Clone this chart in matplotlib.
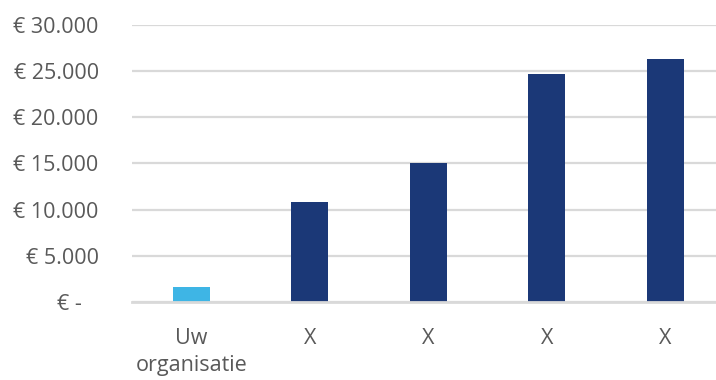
import numpy as np
import matplotlib.pyplot as plt

plt.rcParams['font.family'] = ['Open Sans', 'DejaVu Sans']

# data
categories = ['Uw\norganisatie', 'X', 'X', 'X', 'X']
values = [1600, 10850, 15000, 24700, 26300]
colors = ['#3EB5E5', '#1B3877', '#1B3877', '#1B3877', '#1B3877']
yticks = [0, 5000, 10000, 15000, 20000, 25000, 30000]
yticklabels = ['€ -   ', '€ 5.000', '€ 10.000', '€ 15.000', '€ 20.000', '€ 25.000', '€ 30.000']

fig = plt.figure(figsize=(7.16, 3.8), dpi=100)
ax = fig.add_axes([0.1844, 0.2053, 0.8275, 0.729])

x = np.arange(len(categories))
ax.bar(x, values, width=0.31, color=colors, zorder=3)

ax.set_xlim(-0.5, 4.5)
ax.set_ylim(0, 30000)
ax.set_yticks(yticks)
ax.set_yticklabels(yticklabels)
ax.set_xticks(x)
ax.set_xticklabels(categories, linespacing=1.35)

ax.grid(axis='y', color='#D9D9D9', linewidth=1.6, zorder=0)
for s in ['top', 'right', 'left']:
    ax.spines[s].set_visible(False)
ax.spines['bottom'].set_color('#D9D9D9')
ax.spines['bottom'].set_linewidth(2)
ax.spines['bottom'].set_zorder(4)

ax.tick_params(axis='both', length=0, labelsize=15.5, labelcolor='#595959')
ax.tick_params(axis='y', pad=24)
ax.tick_params(axis='x', pad=19)

fig.savefig('out.png', dpi=100)
